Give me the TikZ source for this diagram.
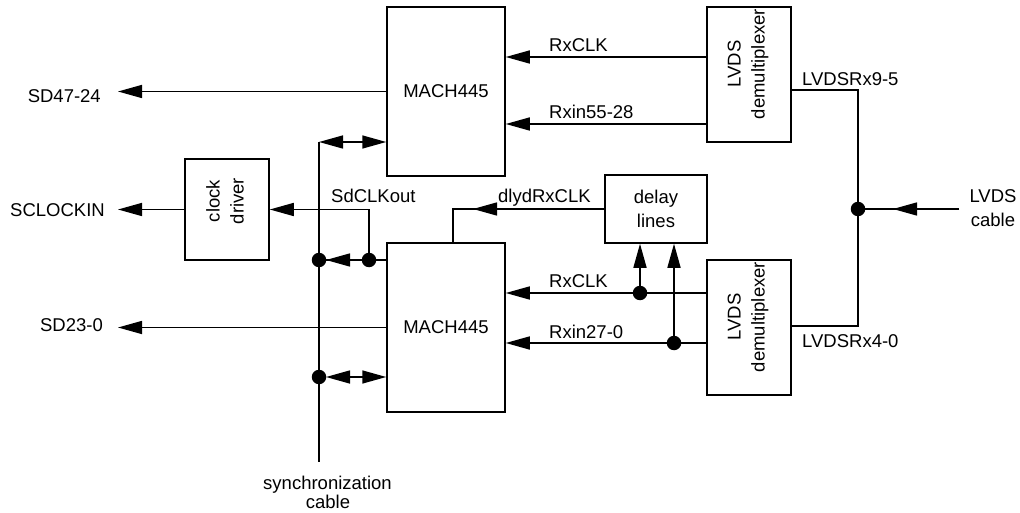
\documentclass[tikz,border=0pt]{standalone}
\usepackage{fontspec}
\setmainfont{Liberation Sans}
\usetikzlibrary{arrows.meta}
\begin{document}
\begin{tikzpicture}[x=1pt,y=-1pt,
  box/.style={draw, line width=1.5pt, inner sep=0pt},
  wire/.style={line width=1.5pt},
  arr/.style={wire, -{Triangle[length=24pt,width=13pt]}},
  biarr/.style={wire, {Triangle[length=24pt,width=13pt]}-{Triangle[length=24pt,width=13pt]}},
  lbl/.style={inner sep=0pt, font=\fontsize{18.5}{24}\selectfont},
  dot/.style={circle, fill, inner sep=0pt, minimum size=14.5pt}]
\useasboundingbox (0,0) rectangle (1020,513);

% boxes
\node[box, minimum width=118pt, minimum height=169pt, lbl] (mach1) at (446,91.5) {MACH445};
\node[box, minimum width=118pt, minimum height=169pt, lbl] (mach2) at (446,327.5) {MACH445};
\node[box, minimum width=84pt, minimum height=135pt] (demux1) at (749,74.5) {};
\node[box, minimum width=84pt, minimum height=135pt] (demux2) at (749,327.5) {};
\node[box, minimum width=84pt, minimum height=101pt] (clk) at (227,209.5) {};
\node[box, minimum width=102pt, minimum height=68pt, lbl, align=center] (delay) at (656,209) {delay\\lines};

\node[lbl, rotate=90, align=center] (demux1t) at (748,64) {LVDS\\demultiplexer};
\node[lbl, rotate=90, align=center] (demux2t) at (748,317) {LVDS\\demultiplexer};
\node[lbl, rotate=90, align=center] (clkt) at (225,201) {clock\\driver};

% junction dots
\node[dot] (d1) at (369,260) {};
\node[dot] (d2) at (319,260) {};
\node[dot] (d3) at (319,377) {};
\node[dot] (d4) at (640,293) {};
\node[dot] (d5) at (674,343) {};
\node[dot] (dc) at (858,209) {};

% free ends / corners
\coordinate (sd47) at (118,91.5);
\coordinate (sclk) at (118,209.5);
\coordinate (sd23) at (118,327.5);
\coordinate (st) at (319,142);
\coordinate (sb) at (319,462);
\coordinate (dk) at (453,209);
\coordinate (rt) at (858,90);
\coordinate (rb) at (858,326);
\coordinate (cab) at (959,209);

% top MACH inputs
\draw[arr] (demux1.west |- 0,57) -- (mach1.east |- 0,57);
\draw[arr] (demux1.west |- 0,124) -- (mach1.east |- 0,124);
% outputs
\draw[arr] (mach1.west) -- (sd47);
\draw[arr] (clk.west) -- (sclk);
\draw[arr] (mach2.west) -- (sd23);

% synchronization cable
\draw[wire] (st) -- (sb);
\draw[biarr] (st) -- (mach1.west |- st);
\draw[wire] (d3.center) -- (326,377);
\draw[biarr] (326,377) -- (mach2.west |- d3);

% SdCLKout
\draw[wire] (mach2.west |- d1) -- (d2.center);
\draw[arr] (d1.center) -- (326,260);
\draw[arr] (d1.center) |- (clk.east);

% delayed clock
\draw[wire] (delay.west) -| (dk |- mach2.north);
\draw[arr] (delay.west) -- (473,209);

% lower MACH inputs
\draw[arr] (demux2.west |- d4) -- (mach2.east |- d4);
\draw[arr] (demux2.west |- d5) -- (mach2.east |- d5);
\draw[arr] (d4.center) -- (d4 |- delay.south);
\draw[arr] (d5.center) -- (d5 |- delay.south);

% LVDS cable
\draw[wire] (demux1.east |- rt) -- (rt) -- (rb) -- (demux2.east |- rb);
\draw[wire] (cab) -- (dc.center);
\draw[arr] (cab) -- (893,209);

% labels
\node[lbl, anchor=base west] (l1) at (549,52) {RxCLK};
\node[lbl, anchor=base west] (l2) at (549,119) {Rxin55-28};
\node[lbl, anchor=base west] (l3) at (549,287) {RxCLK};
\node[lbl, anchor=base west] (l4) at (549,338) {Rxin27-0};
\node[lbl, anchor=base west] (l5) at (498,203) {dlydRxCLK};
\node[lbl, anchor=base west] (l6) at (331,203) {SdCLKout};
\node[lbl, anchor=base west] (l7) at (802,86) {LVDSRx9-5};
\node[lbl, anchor=base west] (l8) at (802,347) {LVDSRx4-0};
\node[lbl, anchor=base] (l9) at (993,203) {LVDS};
\node[lbl, anchor=base] (l10) at (993,227) {cable};
\node[lbl, anchor=base east] (l11) at (101,103) {SD47-24};
\node[lbl, anchor=base east] (l12) at (105,217) {SCLOCKIN};
\node[lbl, anchor=base east] (l13) at (103,331) {SD23-0};
\node[lbl, anchor=base] (l14) at (327.5,489) {synchronization};
\node[lbl, anchor=base] (l15) at (328,508) {cable};
\end{tikzpicture}
\end{document}
